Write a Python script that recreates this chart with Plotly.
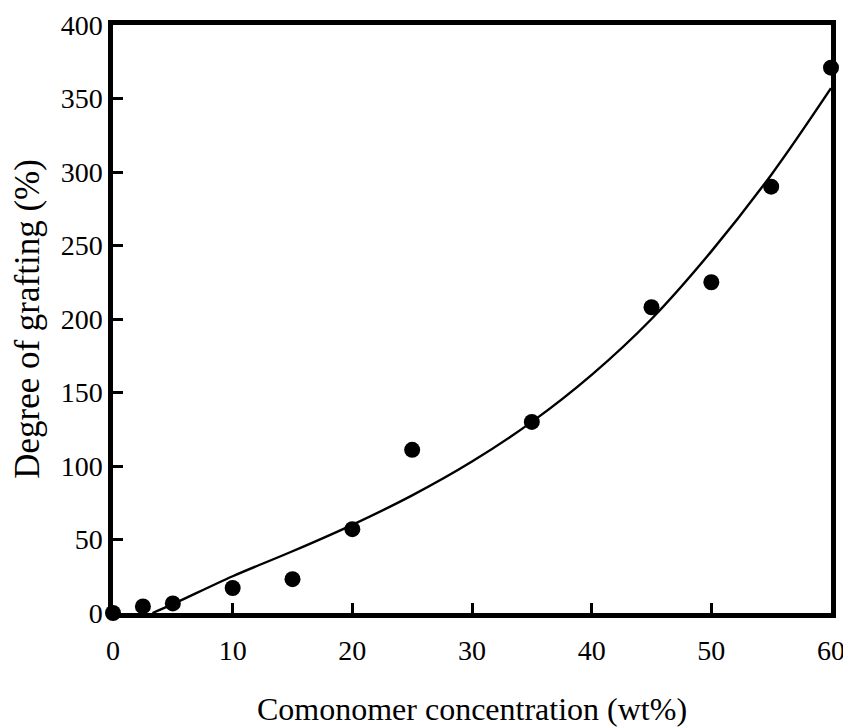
import plotly.graph_objects as go

conc = [0, 2.5, 5, 10, 15, 20, 25, 35, 45, 50, 55, 60]
grafting = [0, 4.5, 6.5, 17, 23, 57, 111, 130, 208, 225, 290, 371]

fit_x = [3.3, 5, 10, 15, 20, 25, 30, 35, 40, 45, 50, 55, 60]
fit_y = [0, 6, 25, 42, 60, 80, 103, 130, 162, 200, 246, 298, 357]

x_ticks = [0, 10, 20, 30, 40, 50, 60]
y_ticks = [0, 50, 100, 150, 200, 250, 300, 350, 400]

font_family = "Liberation Serif, Times New Roman, serif"

fig = go.Figure()
fig.add_trace(go.Scatter(x=fit_x, y=fit_y, mode="lines",
                         line=dict(color="black", width=2.4, shape="spline", smoothing=1.0),
                         hoverinfo="skip", showlegend=False))
fig.add_trace(go.Scatter(x=conc, y=grafting, mode="markers",
                         marker=dict(color="black", size=16, line=dict(width=0)),
                         cliponaxis=False, showlegend=False))

# page body has an 8px default margin, so the figure is sized/offset to compensate
fig.update_layout(
    width=843, height=719,
    margin=dict(l=105, r=20, t=17, b=114, autoexpand=False),
    paper_bgcolor="white", plot_bgcolor="white",
    font=dict(family=font_family, color="black", size=27),
    xaxis=dict(range=[0, 60], tickvals=x_ticks, ticks="inside", ticklen=10, tickwidth=3,
               tickcolor="black", showline=True, linecolor="black", linewidth=4.5, mirror=True,
               showgrid=False, zeroline=False, tickfont=dict(size=28), automargin=False,
               title=dict(text="Comonomer concentration (wt%)", font=dict(size=32), standoff=45),
               ticklabelstandoff=9),
    yaxis=dict(range=[0, 400], tickvals=y_ticks, ticks="inside", ticklen=10, tickwidth=3,
               tickcolor="black", showline=True, linecolor="black", linewidth=4.5, mirror=True,
               showgrid=False, zeroline=False, tickfont=dict(size=28), automargin=False,
               title=dict(text="Degree of grafting (%)", font=dict(size=35), standoff=13),
               ticklabelstandoff=0),
)

fig.write_html("out.html")
